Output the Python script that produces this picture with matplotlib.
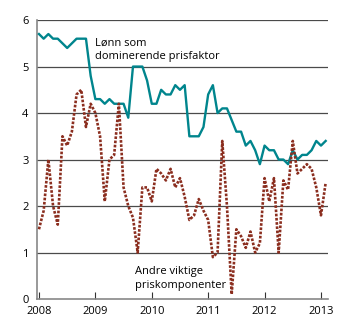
import matplotlib
matplotlib.use("Agg")
import matplotlib.pyplot as plt
import numpy as np

plt.rcParams['font.family'] = ['Open Sans', 'DejaVu Sans']

start_year = 2008
lonn = [5.7, 5.6, 5.7, 5.6, 5.6, 5.5, 5.4, 5.5, 5.6, 5.6, 5.6, 4.8,
        4.3, 4.3, 4.2, 4.3, 4.2, 4.2, 4.2, 3.9, 5.0, 5.0, 5.0, 4.7,
        4.2, 4.2, 4.5, 4.4, 4.4, 4.6, 4.5, 4.6, 3.5, 3.5, 3.5, 3.7,
        4.4, 4.6, 4.0, 4.1, 4.1, 3.85, 3.6, 3.6, 3.3, 3.4, 3.2, 2.9,
        3.3, 3.2, 3.2, 3.0, 3.0, 2.9, 3.2, 3.0, 3.1, 3.1, 3.2, 3.4,
        3.3, 3.4]
andre = [1.5, 1.9, 3.0, 2.0, 1.6, 3.5, 3.3, 3.6, 4.4, 4.5, 3.7, 4.2,
         4.0, 3.5, 2.1, 3.0, 3.1, 4.2, 2.4, 2.0, 1.75, 1.0, 2.4, 2.4,
         2.1, 2.8, 2.7, 2.55, 2.8, 2.4, 2.6, 2.2, 1.7, 1.8, 2.15, 1.9,
         1.7, 0.9, 1.0, 3.4, 2.0, 0.1, 1.5, 1.35, 1.1, 1.45, 1.0, 1.2,
         2.6, 2.1, 2.6, 1.0, 2.55, 2.35, 3.4, 2.7, 2.8, 2.9, 2.8, 2.4,
         1.8, 2.5]
year_ticks = [2008, 2009, 2010, 2011, 2012, 2013]
y_ticks = [0, 1, 2, 3, 4, 5, 6]
label_lonn = "Lønn som\ndominerende prisfaktor"
label_andre = "Andre viktige\npriskomponenter"

x = start_year + np.arange(len(lonn)) / 12.0

fig = plt.figure(figsize=(3.5, 3.24), dpi=100)
ax = fig.add_axes([0.1057, 0.0772, 0.8315, 0.8608])

for yv in y_ticks[1:]:
    ax.axhline(yv, color='#4a4a4a', lw=0.9, zorder=1)

ax.plot(x, lonn, color='#00858D', lw=1.7, zorder=3)
ax.plot(x, andre, color='#8B2E1F', lw=1.9, linestyle=(0, (1, 0.6)), zorder=3)

ax.set_xlim(2007.965, 2013.125)
ax.set_ylim(0, 6)
ax.set_xticks(year_ticks)
ax.set_xticklabels([str(y) for y in year_ticks])
ax.set_yticks(y_ticks)
ax.tick_params(axis='x', direction='in', length=5, width=0.8, color='#333333',
               labelsize=8, pad=5)
ax.tick_params(axis='y', length=0, labelsize=8, pad=6)
for s in ['top', 'right']:
    ax.spines[s].set_visible(False)
for s in ['left', 'bottom']:
    ax.spines[s].set_color('#888888')
    ax.spines[s].set_linewidth(1.2)

ax.text(2009.0, 5.1, label_lonn, fontsize=8, va='bottom', ha='left',
        linespacing=1.3)
ax.text(2009.7, 0.18, label_andre, fontsize=8, va='bottom', ha='left',
        linespacing=1.3)

fig.savefig("out.png", dpi=100)
